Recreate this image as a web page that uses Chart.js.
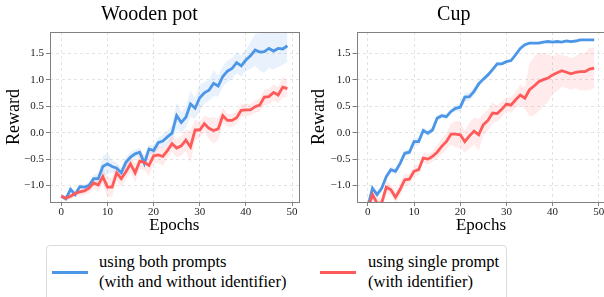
<!DOCTYPE html>
<html>
<head>
<meta charset="utf-8">
<script src="https://cdn.jsdelivr.net/npm/chart.js@4.4.1/dist/chart.umd.min.js"></script>
<style>
  html, body { margin: 0; padding: 0; background: #fff; }
  body { width: 604px; height: 297px; overflow: hidden; position: relative; font-family: "Liberation Serif", "Times New Roman", serif; }
  canvas { position: absolute; top: 0; }
  #legend { position: absolute; left: 46px; top: 245px; width: 459px; height: 70px; border: 1px solid #dcdcdc; border-radius: 4px; }
  .swatch { position: absolute; top: 25px; width: 36px; height: 3px; }
  .label { position: absolute; top: 6px; font-family: "Liberation Serif", serif; font-size: 16.5px; line-height: 20px; color: #000; white-space: nowrap; }
</style>
</head>
<body>
<canvas id="potChart" width="302" height="240" style="left:0px"></canvas>
<canvas id="cupChart" width="308" height="240" style="left:302px"></canvas>
<div id="legend">
  <span class="swatch" style="left:5px;background:#4c96e8"></span>
  <span class="label" style="left:52px">using both prompts<br>(with and without identifier)</span>
  <span class="swatch" style="left:273px;background:#ff5a5a"></span>
  <span class="label" style="left:321px">using single prompt<br>(with identifier)</span>
</div>
<script>
// Data
var epochs = [0, 1, 2, 3, 4, 5, 6, 7, 8, 9, 10, 11, 12, 13, 14, 15, 16, 17, 18, 19,
	20, 21, 22, 23, 24, 25, 26, 27, 28, 29, 30, 31, 32, 33, 34, 35, 36, 37, 38, 39,
	40, 41, 42, 43, 44, 45, 46, 47, 48, 49];

var potBoth = [-1.20, -1.25, -1.07, -1.17, -1.02, -1.03, -1.00, -0.87, -0.87, -0.64,
	-0.59, -0.64, -0.67, -0.76, -0.56, -0.46, -0.40, -0.37, -0.58, -0.31,
	-0.34, -0.19, -0.16, -0.08, -0.01, 0.32, 0.19, 0.29, 0.54, 0.46,
	0.66, 0.75, 0.80, 0.93, 0.88, 1.06, 1.16, 1.21, 1.32, 1.26,
	1.37, 1.45, 1.56, 1.52, 1.53, 1.59, 1.54, 1.59, 1.58, 1.64];
var potBothSpread = [0.03, 0.05, 0.05, 0.05, 0.05, 0.05, 0.06, 0.08, 0.10, 0.20,
	0.20, 0.12, 0.10, 0.10, 0.10, 0.10, 0.08, 0.08, 0.10, 0.08,
	0.10, 0.10, 0.12, 0.12, 0.15, 0.25, 0.20, 0.20, 0.25, 0.20,
	0.25, 0.20, 0.20, 0.25, 0.20, 0.20, 0.20, 0.20, 0.20, 0.20,
	0.20, 0.25, 0.30, 0.35, 0.40, 0.37, 0.35, 0.35, 0.30, 0.30];
var potSingle = [-1.20, -1.24, -1.20, -1.15, -1.12, -1.10, -1.05, -0.95, -0.99, -0.83,
	-1.03, -1.03, -0.76, -0.87, -0.74, -0.59, -0.76, -0.54, -0.56, -0.62,
	-0.44, -0.42, -0.45, -0.34, -0.21, -0.29, -0.25, -0.14, -0.27, 0.05,
	0.05, 0.17, 0.08, 0.04, 0.07, 0.32, 0.23, 0.23, 0.28, 0.42,
	0.43, 0.43, 0.49, 0.52, 0.67, 0.68, 0.76, 0.71, 0.86, 0.83];
var potSingleSpread = [0.05, 0.05, 0.06, 0.06, 0.08, 0.08, 0.10, 0.10, 0.12, 0.15,
	0.18, 0.18, 0.15, 0.15, 0.15, 0.15, 0.18, 0.15, 0.15, 0.20,
	0.15, 0.15, 0.18, 0.15, 0.15, 0.18, 0.18, 0.20, 0.30, 0.20,
	0.15, 0.15, 0.20, 0.25, 0.20, 0.15, 0.12, 0.12, 0.12, 0.12,
	0.12, 0.10, 0.12, 0.12, 0.15, 0.15, 0.15, 0.15, 0.20, 0.15];

var cupBoth = [-1.40, -1.05, -1.17, -1.05, -0.83, -0.70, -0.73, -0.58, -0.39, -0.37,
	-0.17, -0.17, 0.04, -0.01, 0.05, 0.27, 0.32, 0.30, 0.40, 0.46,
	0.48, 0.67, 0.68, 0.78, 0.92, 1.01, 1.09, 1.19, 1.30, 1.30,
	1.34, 1.36, 1.47, 1.59, 1.66, 1.69, 1.69, 1.69, 1.71, 1.72,
	1.71, 1.72, 1.71, 1.73, 1.72, 1.73, 1.75, 1.75, 1.75, 1.75];
var cupBothSpread = [0.05, 0.06, 0.06, 0.06, 0.06, 0.06, 0.06, 0.06, 0.06, 0.06,
	0.08, 0.08, 0.06, 0.06, 0.06, 0.06, 0.05, 0.05, 0.05, 0.06,
	0.08, 0.08, 0.08, 0.08, 0.06, 0.05, 0.05, 0.04, 0.04, 0.03,
	0.03, 0.03, 0.03, 0.03, 0.03, 0.02, 0.02, 0.02, 0.02, 0.02,
	0.02, 0.02, 0.02, 0.02, 0.02, 0.02, 0.02, 0.02, 0.02, 0.02];
var cupSingle = [-1.45, -1.17, -1.33, -1.33, -1.03, -1.08, -1.22, -1.07, -0.89, -0.88,
	-0.73, -0.70, -0.48, -0.50, -0.45, -0.37, -0.26, -0.17, -0.03, -0.03,
	-0.04, -0.17, -0.06, 0.03, -0.04, 0.15, 0.23, 0.37, 0.36, 0.44,
	0.54, 0.52, 0.62, 0.71, 0.65, 0.81, 0.88, 0.96, 1.00, 1.03,
	1.09, 1.13, 1.17, 1.14, 1.11, 1.14, 1.15, 1.15, 1.20, 1.22];
var cupSingleSpread = [0.08, 0.10, 0.10, 0.10, 0.12, 0.10, 0.10, 0.12, 0.12, 0.10,
	0.10, 0.10, 0.10, 0.10, 0.10, 0.12, 0.15, 0.15, 0.20, 0.25,
	0.25, 0.20, 0.25, 0.25, 0.30, 0.20, 0.20, 0.20, 0.15, 0.15,
	0.12, 0.15, 0.15, 0.20, 0.20, 0.50, 0.55, 0.55, 0.50, 0.45,
	0.35, 0.35, 0.30, 0.30, 0.30, 0.30, 0.35, 0.35, 0.40, 0.38];

var yTicks = [-1.0, -0.5, 0.0, 0.5, 1.0, 1.5];

// Colours
var blue = "#4c96e8";
var red = "#ff5a5a";
var blueBand = "rgba(76, 150, 232, 0.13)";
var redBand = "rgba(255, 90, 90, 0.12)";
var serif = "'Liberation Serif', 'Times New Roman', serif";

function points(values, spread, sign) {
	return epochs.map(function (e, i) {
		var s = spread ? spread[i] * sign : 0;
		return { x: e, y: values[i] + s };
	});
}

// matplotlib style frame around the plot area
var framePlugin = {
	id: "frame",
	afterDraw: function (chart) {
		var a = chart.chartArea;
		var ctx = chart.ctx;
		ctx.save();
		ctx.strokeStyle = "#808080";
		ctx.lineWidth = 1;
		ctx.strokeRect(Math.round(a.left) + 0.5, Math.round(a.top) + 0.5,
			Math.round(a.right - a.left), Math.round(a.bottom - a.top));
		ctx.restore();
	}
};

function makeChart(id, title, both, bothSpread, single, singleSpread, yWidth, yTitlePad, padRight) {
	var band = { pointRadius: 0, borderWidth: 0, tension: 0, clip: 0 };
	var datasets = [
		Object.assign({ data: points(both, bothSpread, 1), backgroundColor: blueBand, fill: "+1", order: 3 }, band),
		Object.assign({ data: points(both, bothSpread, -1), fill: false, order: 3 }, band),
		Object.assign({ data: points(single, singleSpread, 1), backgroundColor: redBand, fill: "+1", order: 2 }, band),
		Object.assign({ data: points(single, singleSpread, -1), fill: false, order: 2 }, band),
		{ data: points(both), borderColor: blue, borderWidth: 2.8, pointRadius: 0, tension: 0, clip: 0, fill: false, order: 1 },
		{ data: points(single), borderColor: red, borderWidth: 2.8, pointRadius: 0, tension: 0, clip: 0, fill: false, order: 0 }
	];

	var gridOpts = {
		color: "#e3e3e3",
		lineWidth: 1,
		drawTicks: true,
		tickLength: 4,
		tickColor: "#808080",
		tickWidth: 1,
		tickBorderDash: []
	};

	return new Chart(document.getElementById(id).getContext("2d"), {
		type: "line",
		data: { datasets: datasets },
		options: {
			responsive: false,
			animation: false,
			events: [],
			layout: { padding: { left: 0, right: padRight, top: 0, bottom: 0 } },
			plugins: {
				legend: { display: false },
				tooltip: { enabled: false },
				title: {
					display: true,
					text: title,
					color: "#000",
					font: { family: serif, size: 20, weight: "normal" },
					padding: { top: 3, bottom: 5 }
				}
			},
			scales: {
				x: {
					type: "linear",
					min: -2.45,
					max: 51.45,
					grid: gridOpts,
					border: { display: false, dash: [3, 3] },
					ticks: {
						stepSize: 10,
						includeBounds: false,
						autoSkip: false,
						maxRotation: 0,
						padding: 0,
						color: "#222",
						font: { family: serif, size: 11 }
					},
					title: {
						display: true,
						text: "Epochs",
						color: "#000",
						font: { family: serif, size: 17 },
						padding: { top: 0, bottom: 4.5 }
					},
					afterFit: function (scale) { scale.height = 38; }
				},
				y: {
					type: "linear",
					min: -1.31,
					max: 1.9,
					grid: gridOpts,
					border: { display: false, dash: [3, 3] },
					afterBuildTicks: function (scale) {
						scale.ticks = yTicks.map(function (v) { return { value: v }; });
					},
					ticks: {
						includeBounds: false,
						autoSkip: false,
						padding: 2,
						color: "#222",
						font: { family: serif, size: 11 },
						callback: function (v) { return v.toFixed(1).replace("-", "\u2212"); }
					},
					title: {
						display: true,
						text: "Reward",
						color: "#000",
						font: { family: serif, size: 18 },
						padding: { top: yTitlePad, bottom: 0 }
					},
					afterFit: function (scale) { scale.width = yWidth; }
				}
			}
		},
		plugins: [framePlugin]
	});
}

makeChart("potChart", "Wooden pot", potBoth, potBothSpread, potSingle, potSingleSpread, 50, 3.7, 3.3);
makeChart("cupChart", "Cup", cupBoth, cupBothSpread, cupSingle, cupSingleSpread, 54.5, 6.2, 4.5);
</script>
</body>
</html>
